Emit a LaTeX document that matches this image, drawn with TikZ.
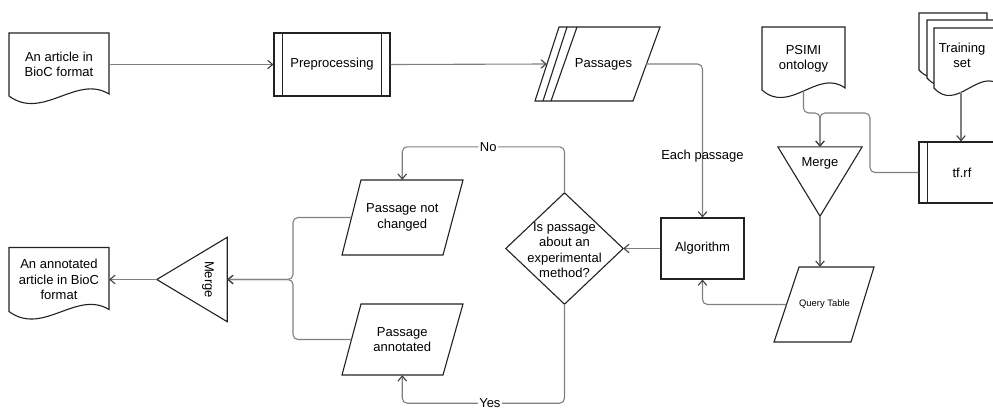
\documentclass[tikz,border=0pt]{standalone}
\usepackage{fontspec}
\setmainfont{Liberation Sans}
\usetikzlibrary{arrows.meta,calc}
\definecolor{linkgray}{HTML}{808080}
\definecolor{ink}{HTML}{222222}
\newcommand\myfs{\fontsize{13}{15.3}\selectfont}
\newcommand\mydocshape[4]{%
  \filldraw[shapeline,fill=white] (#1,#2) -- ({#1+#3},#2) -- ({#1+#3},{#2+#4-2})
    .. controls ({#1+0.675*#3},{#2+#4-22}) and ({#1+0.337*#3},{#2+#4+25}) .. (#1,{#2+#4}) -- cycle;}
\begin{document}
\begin{tikzpicture}[x=1pt,y=-1pt,
  shapeline/.style={draw=ink,line width=1.1pt,line join=miter},
  link/.style={draw=linkgray,line width=1.1pt,rounded corners=5pt,
    -{Straight Barb[length=5pt,width=8.5pt,color=black!75]}},
  area/.style={inner sep=0pt,align=center,font=\myfs},
  txt/.style={inner sep=0pt,align=center,font=\myfs}]
\fill[white] (0,0) rectangle (993,410);
\useasboundingbox (0,0) rectangle (993,410);

% article document
\mydocshape{9}{33}{100}{63}
\node[area,minimum width=100pt,minimum height=63pt] (art) at (59,64.5) {An article in\\BioC format};

% preprocessing
\node[area,shapeline,minimum width=116pt,minimum height=63pt] (pre) at (332,64.5) {Preprocessing};
\draw[shapeline] ([xshift=9pt]pre.north west) -- ([xshift=9pt]pre.south west)
  ([xshift=-9pt]pre.north east) -- ([xshift=-9pt]pre.south east);

% passages
\draw[shapeline] (535,101) -- (559,27) -- (660,27) -- (633,101) -- cycle;
\draw[shapeline] (543,101) -- (567,27) (551,101) -- (577,27);
\node[area,minimum width=99pt,minimum height=74pt] (pas) at (596.5,64) {\hspace*{14pt}Passages};

% algorithm
\node[area,shapeline,minimum width=83pt,minimum height=61pt] (alg) at (702.5,248.5) {Algorithm};

% decision
\node[area,minimum width=117pt,minimum height=111pt] (dec) at (564.5,248.5) {};
\draw[shapeline] (dec.north) -- (dec.east) -- (dec.south) -- (dec.west) -- cycle;
\node[txt] (dect) at (564.5,250) {Is passage\\about an\\experimental\\method?};

% passage not changed
\draw[shapeline] (361,180) -- (463,180) -- (443,255) -- (342,255) -- cycle;
\node[area,minimum width=101.5pt,minimum height=75pt] (pnc) at (402.25,217.5) {Passage not\\changed};

% passage annotated
\draw[shapeline] (361,304) -- (463,304) -- (443,375) -- (342,375) -- cycle;
\node[area,minimum width=101.5pt,minimum height=71pt] (pan) at (402.25,339.5) {Passage\\annotated};

% merge (left)
\node[area,minimum width=70pt,minimum height=84pt] (mrgL) at (192,279.5) {};
\draw[shapeline] (mrgL.west) -- (mrgL.north east) -- (mrgL.south east) -- cycle;
\node[txt,rotate=-90] (mrgLt) at (208,279.5) {Merge};

% annotated article
\mydocshape{9}{247.5}{100}{64}
\node[area,minimum width=100pt,minimum height=64pt] (ann) at (59,279.5) {An annotated\\article in BioC\\format};

% PSIMI ontology
\mydocshape{762}{27}{83}{63}
\node[area,minimum width=83pt,minimum height=63pt] (psi) at (803.5,58.5) {PSIMI\\ontology};

% merge (top)
\node[area,minimum width=84pt,minimum height=69pt] (mrgT) at (820,181.5) {};
\draw[shapeline] (mrgT.north west) -- (mrgT.north east) -- (mrgT.south) -- cycle;
\node[txt] (mrgTt) at (820,163) {Merge};

% query table
\draw[shapeline] (799,267) -- (874,267) -- (851,342) -- (774,342) -- cycle;
\node[area,minimum width=76pt,minimum height=75pt,font=\fontsize{9.4}{11}\selectfont] (qt) at (824.5,304.5) {Query Table};

% training set
\mydocshape{919}{13}{68}{57}
\mydocshape{927}{20}{67}{58}
\mydocshape{934}{28}{67}{60}
\node[txt] (trnt) at (962,55.5) {Training\\set};
\coordinate (trnb) at (961,92.3);

% tf.rf
\node[area,shapeline,minimum width=91pt,minimum height=61pt] (tf) at (964.5,172.5) {};
\draw[shapeline] ([xshift=9pt]tf.north west) -- ([xshift=9pt]tf.south west);
\node[txt] (tft) at (962,173) {tf.rf};

% connectors
\draw[link] (art.east) -- (pre.west);
\draw[link] (pre.east) -- (pas.west);
\draw[link] (pas.east) -| node[txt,pos=0.8] (each) {Each passage} (alg.north);
\draw[link] (alg.west) -- (dec.east);
\draw[link] (dec.north) -- ++(0,-46) -| node[txt,fill=white,inner sep=1.5pt,pos=0.235] (no) {No} (pnc.north);
\draw[link] (dec.south) -- ++(0,99) -| node[txt,fill=white,inner sep=1.5pt,pos=0.23] (yes) {Yes} (pan.south);
\coordinate (j) at (293,279.5);
\draw[link] (pnc.west) -| (j) -- (mrgL.east);
\draw[link] (pan.west) -| (j) -- (mrgL.east);
\draw[link] (mrgL.west) -- (ann.east);
\coordinate (m1in) at (820,113);
\coordinate (m1r) at (870,113);
\draw[link] (psi.south) |- (m1in) -- (mrgT.north);
\draw[link] (tf.west) -| (m1r) -- (m1in) -- (mrgT.north);
\draw[link] (trnb) -- (trnb |- tf.north);
\draw[link] (mrgT.south) -- (mrgT.south |- qt.north);
\draw[link] (qt.west) -| (alg.south);
\end{tikzpicture}
\end{document}
